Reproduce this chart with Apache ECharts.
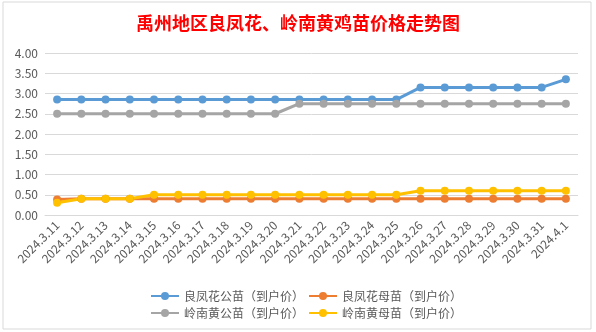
<!DOCTYPE html>
<html>
<head>
<meta charset="utf-8">
<script src="https://cdn.jsdelivr.net/npm/echarts@6/dist/echarts.min.js"></script>
<style>
  html, body { margin: 0; padding: 0; background: #fff; }
  #chart { width: 596px; height: 332px; }
</style>
</head>
<body>
<div id="chart"></div>
<script>
// Dates along the x axis
const dates = ['2024.3.11','2024.3.12','2024.3.13','2024.3.14','2024.3.15','2024.3.16','2024.3.17',
  '2024.3.18','2024.3.19','2024.3.20','2024.3.21','2024.3.22','2024.3.23','2024.3.24','2024.3.25',
  '2024.3.26','2024.3.27','2024.3.28','2024.3.29','2024.3.30','2024.3.31','2024.4.1'];

// Prices (yuan per chick, delivered)
const lfhMale   = [2.85,2.85,2.85,2.85,2.85,2.85,2.85,2.85,2.85,2.85,2.85,2.85,2.85,2.85,2.85,3.15,3.15,3.15,3.15,3.15,3.15,3.35];
const lfhFemale = [0.38,0.40,0.40,0.40,0.40,0.40,0.40,0.40,0.40,0.40,0.40,0.40,0.40,0.40,0.40,0.40,0.40,0.40,0.40,0.40,0.40,0.40];
const lnhMale   = [2.50,2.50,2.50,2.50,2.50,2.50,2.50,2.50,2.50,2.50,2.75,2.75,2.75,2.75,2.75,2.75,2.75,2.75,2.75,2.75,2.75,2.75];
const lnhFemale = [0.30,0.40,0.40,0.40,0.50,0.50,0.50,0.50,0.50,0.50,0.50,0.50,0.50,0.50,0.50,0.60,0.60,0.60,0.60,0.60,0.60,0.60];

const seriesNames = ['良凤花公苗（到户价）','良凤花母苗（到户价）','岭南黄公苗（到户价）','岭南黄母苗（到户价）'];
const seriesColors = ['#5B9BD5','#ED7D31','#A5A5A5','#FFC000'];
const seriesData = [lfhMale, lfhFemale, lnhMale, lnhFemale];

const font = '"Noto Sans CJK SC", "Noto Sans", sans-serif';
const textColor = '#595959';

const chart = echarts.init(document.getElementById('chart'), null, { renderer: 'canvas' });

const legendBase = {
  left: 145,
  orient: 'horizontal',
  itemWidth: 28,
  itemHeight: 10,
  itemGap: 4,
  textStyle: { color: textColor, fontSize: 12, fontFamily: font }
};

chart.setOption({
  backgroundColor: '#fff',
  animation: false,
  title: {
    text: '禹州地区良凤花、岭南黄鸡苗价格走势图',
    left: 'center',
    top: 9,
    textStyle: { color: '#FF0000', fontSize: 18, fontWeight: 'bold', fontFamily: '"Noto Sans CJK SC", serif' }
  },
  graphic: [{
    type: 'rect',
    shape: { x: 3, y: 2, width: 588, height: 327 },
    style: { fill: 'none', stroke: '#D9D9D9', lineWidth: 1 },
    silent: true,
    z: -1
  }],
  legend: [
    Object.assign({}, legendBase, { top: 285, data: [seriesNames[0], seriesNames[1]] }),
    Object.assign({}, legendBase, { top: 302, data: [seriesNames[2], seriesNames[3]] })
  ],
  grid: { left: 45, right: 18, top: 53, bottom: 117, containLabel: false },
  xAxis: {
    type: 'category',
    data: dates,
    boundaryGap: true,
    axisLine: { lineStyle: { color: '#D9D9D9', width: 1 } },
    axisTick: { show: false },
    axisLabel: {
      rotate: 45,
      interval: 0,
      margin: 8,
      color: textColor,
      fontSize: 12,
      fontFamily: font
    }
  },
  yAxis: {
    type: 'value',
    min: 0,
    max: 4,
    interval: 0.5,
    axisLine: { show: false },
    axisTick: { show: false },
    splitLine: { lineStyle: { color: '#D9D9D9', width: 1 } },
    axisLabel: {
      color: textColor,
      fontSize: 12,
      fontFamily: font,
      margin: 7,
      formatter: v => v.toFixed(2)
    }
  },
  series: seriesNames.map((name, i) => ({
    name,
    type: 'line',
    data: seriesData[i],
    symbol: 'circle',
    symbolSize: 8,
    color: seriesColors[i],
    lineStyle: { width: 3, color: seriesColors[i] },
    itemStyle: { color: seriesColors[i] }
  }))
});
</script>
</body>
</html>
